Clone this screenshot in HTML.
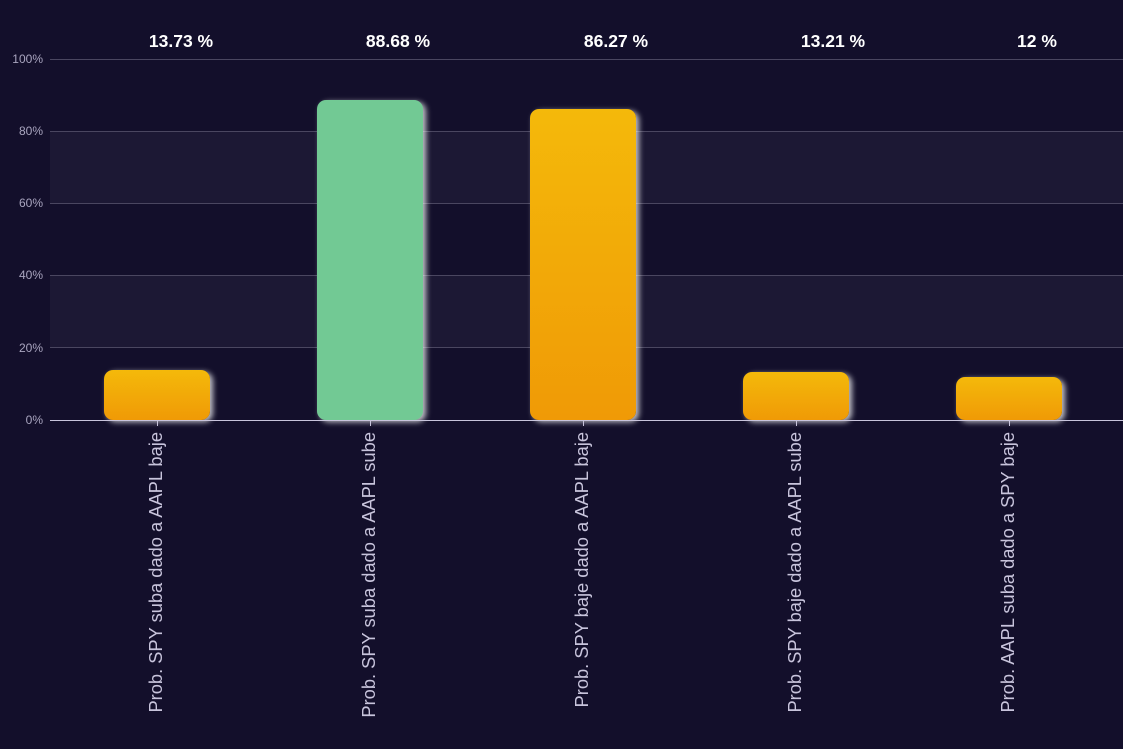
<!DOCTYPE html><html><head><style>
body{margin:0;width:1123px;height:749px;background:#130f2b;overflow:hidden;font-family:"Liberation Sans",sans-serif;position:relative}
.band{position:absolute;left:50px;width:1073px;background:#1c1834}
.g{position:absolute;left:50px;width:1073px;height:1px;background:#4a4660}
.yl{position:absolute;left:0;width:43px;text-align:right;font-size:12px;color:#a9a5bf}
.bar{position:absolute;width:106px;border-radius:9px;box-shadow:3px 2px 6px rgba(255,255,255,0.75)}
.o{background:linear-gradient(#f4b90a,#f09a06)}
.v{position:absolute;top:31px;width:200px;text-align:center;color:#fff;font-weight:bold;font-size:17.5px}
.xl{position:absolute;top:432px;white-space:nowrap;font-size:18.3px;color:#c8c4dc;transform-origin:0 0;transform:rotate(-90deg) translateX(-100%)}
.tk{position:absolute;top:420px;width:1px;height:6px;background:#c8c4dc}
</style></head><body>
<div class="band" style="top:131px;height:72px"></div>
<div class="band" style="top:275px;height:72px"></div>
<div class="g" style="top:59px"></div><div class="g" style="top:131px"></div><div class="g" style="top:203px"></div><div class="g" style="top:275px"></div><div class="g" style="top:347px"></div>
<div class="yl" style="top:52px">100%</div><div class="yl" style="top:124px">80%</div><div class="yl" style="top:196px">60%</div><div class="yl" style="top:268px">40%</div><div class="yl" style="top:341px">20%</div><div class="yl" style="top:413px">0%</div>
<div class="bar o" style="left:104px;top:370px;height:50px"></div>
<div class="bar" style="left:317px;top:100px;height:320px;background:#72c994"></div>
<div class="bar o" style="left:530px;top:109px;height:311px"></div>
<div class="bar o" style="left:743px;top:372px;height:48px"></div>
<div class="bar o" style="left:956px;top:377px;height:43px"></div>
<div style="position:absolute;left:50px;top:420px;width:1073px;height:1px;background:#c8c4dc"></div>
<div class="tk" style="left:157px"></div><div class="tk" style="left:370px"></div><div class="tk" style="left:583px"></div><div class="tk" style="left:796px"></div><div class="tk" style="left:1009px"></div>
<div class="v" style="left:81px">13.73 %</div><div class="v" style="left:298px">88.68 %</div><div class="v" style="left:516px">86.27 %</div><div class="v" style="left:733px">13.21 %</div><div class="v" style="left:937px">12 %</div>
<div class="xl" style="left:145px">Prob. SPY suba dado a AAPL baje</div>
<div class="xl" style="left:358px">Prob. SPY suba dado a AAPL sube</div>
<div class="xl" style="left:571px">Prob. SPY baje dado a AAPL baje</div>
<div class="xl" style="left:784px">Prob. SPY baje dado a AAPL sube</div>
<div class="xl" style="left:997px">Prob. AAPL suba dado a SPY baje</div>
</body></html>
